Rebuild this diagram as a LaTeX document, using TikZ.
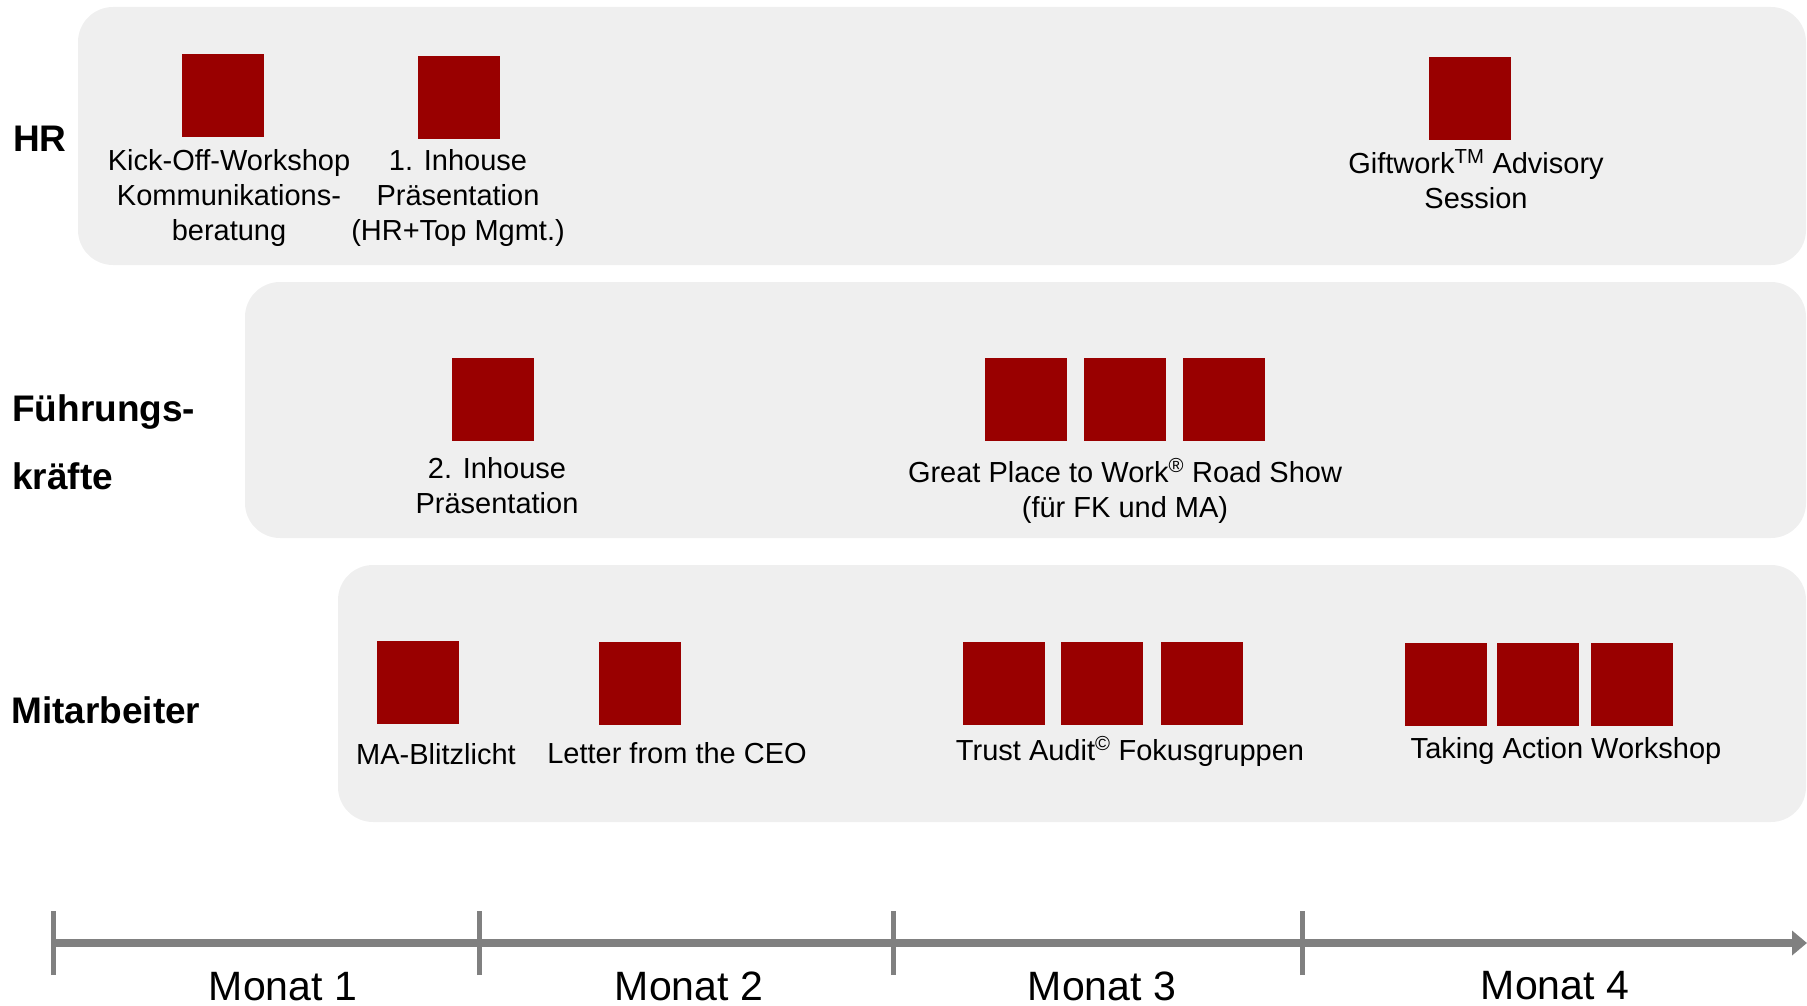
\documentclass[tikz,border=0pt]{standalone}
\usepackage{fontspec}
\setmainfont{Liberation Sans}
\usetikzlibrary{arrows.meta}
\definecolor{boxred}{RGB}{153,0,0}
\definecolor{bandgray}{RGB}{239,239,239}
\definecolor{axisgray}{RGB}{128,128,128}
\begin{document}
\begin{tikzpicture}[x=1pt,y=-1pt,
  band/.style={fill=bandgray, rounded corners=35pt},
  sq/.style={rectangle, fill=boxred, minimum width=82pt, minimum height=83pt, inner sep=0pt},
  lbl/.style={align=center, inner sep=0pt, font=\fontsize{29}{35}\selectfont, anchor=base},
  rowlbl/.style={align=left, inner sep=0pt, font=\fontsize{37}{68}\selectfont\bfseries, anchor=base west},
  month/.style={inner sep=0pt, font=\fontsize{41}{49}\selectfont, anchor=base},
  axisline/.style={draw=axisgray, line width=8pt},
  tickline/.style={draw=axisgray, line width=5pt}]
\useasboundingbox (0,0) rectangle (1807,1006);

% bands
\path[band] (78,7) rectangle (1806,265);
\path[band] (245,282) rectangle (1806,538);
\path[band] (338,565) rectangle (1806,822);

% row labels (anchor = baseline of last line)
\node[rowlbl] (lhr) at (13,151) {HR};
\node[rowlbl] (lfk) at (12,489) {Führungs-\\kräfte};
\node[rowlbl] (lma) at (11,723) {Mitarbeiter};

% HR
\node[sq] (kick) at (223,96) {};
\node[sq] (inh1) at (459,98) {};
\node[sq] (gift) at (1470,99) {};
\node[lbl] (kickl) at (229,240) {Kick-Off-Workshop\\Kommunikations-\\beratung};
\node[lbl] (inh1l) at (458,240) {1. Inhouse\\Präsentation\\(HR+Top Mgmt.)};
\node[lbl] (giftl) at (1476,208) {Giftwork\textsuperscript{TM} Advisory\\Session};

% Fuehrungskraefte
\node[sq] (inh2) at (493,399) {};
\node[sq] (rs1) at (1026,399) {};
\node[sq] (rs2) at (1125,399) {};
\node[sq] (rs3) at (1224,399) {};
\node[lbl] (inh2l) at (497,513) {2. Inhouse\\Präsentation};
\node[lbl] (rsl) at (1125,517) {Great Place to Work\textsuperscript{®} Road Show\\(für FK und MA)};

% Mitarbeiter
\node[sq] (blitz) at (418,682) {};
\node[sq] (ceo) at (640,683) {};
\node[sq] (ta1) at (1004,683) {};
\node[sq] (ta2) at (1102,683) {};
\node[sq] (ta3) at (1202,683) {};
\node[sq] (tw1) at (1446,684) {};
\node[sq] (tw2) at (1538,684) {};
\node[sq] (tw3) at (1632,684) {};
\node[lbl] (blitzl) at (436,764) {MA-Blitzlicht};
\node[lbl] (ceol) at (677,763) {Letter from the CEO};
\node[lbl] (tal) at (1130,760) {Trust Audit\textsuperscript{©} Fokusgruppen};
\node[lbl] (twl) at (1566,758) {Taking Action Workshop};

% timeline
\coordinate (t0) at (53,943);
\coordinate (t1) at (479,943);
\coordinate (t2) at (893,943);
\coordinate (t3) at (1302,943);
\coordinate (tend) at (1807,943);
\draw[axisline, -{Triangle[length=15pt,width=24pt]}] (t0) -- (tend);
\foreach \t in {t0,t1,t2,t3}
  \draw[tickline] ([yshift=-32pt]\t) -- ([yshift=32pt]\t);
\node[month] (m1) at (283,1000) {Monat 1};
\node[month] (m2) at (689,1000) {Monat 2};
\node[month] (m3) at (1102,1000) {Monat 3};
\node[month] (m4) at (1555,999) {Monat 4};
\end{tikzpicture}
\end{document}
